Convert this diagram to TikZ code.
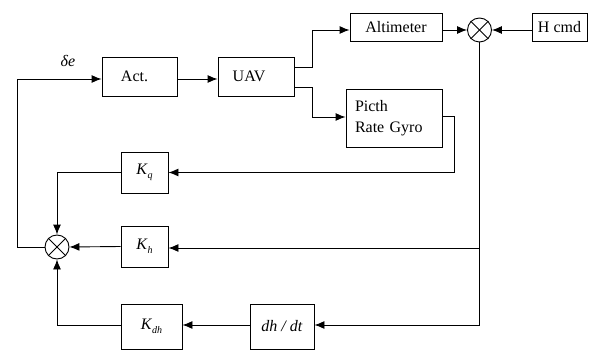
\documentclass[tikz,border=0pt]{standalone}
\usepackage{fontspec}
\setmainfont{Liberation Serif}
\usetikzlibrary{arrows.meta}
\newcommand{\Kgain}[1]{\textit{K}\raisebox{-3.5pt}{\fontsize{10}{10}\selectfont\textit{#1}}}
\begin{document}
\begin{tikzpicture}[x=1pt,y=-1pt,
  blk/.style={draw,line width=0.9pt,inner sep=0pt,font=\fontsize{16}{21}\selectfont},
  sumj/.style={draw,circle,line width=0.9pt,minimum size=24pt,inner sep=0pt},
  wire/.style={line width=0.9pt},
  arr/.style={wire,-{Latex[length=10pt,width=8pt]}}]
\useasboundingbox (0,0) rectangle (608,350);
% blocks
\node[blk,minimum width=75pt,minimum height=39pt] (act) at (139.5,76.5) {Act.\hspace*{10pt}};
\node[blk,minimum width=76pt,minimum height=39pt] (uav) at (256,76.5) {UAV\hspace*{14pt}};
\node[blk,minimum width=92pt,minimum height=28pt] (alt) at (396,27) {Altimeter};
\node[blk,minimum width=55pt,minimum height=28pt] (hcmd) at (559.5,27) {H cmd};
\node[blk,text width=78pt,inner xsep=9pt,minimum height=58pt,align=left] (gyro) at (394,118) {Picth\\Rate Gyro};
\node[blk,minimum width=47pt,minimum height=41pt] (kq) at (144.5,172.5) {\Kgain{q}};
\node[blk,minimum width=47pt,minimum height=41pt] (kh) at (144.5,246.5) {\Kgain{h}};
\node[blk,minimum width=61pt,minimum height=45pt] (kdh) at (151.5,326.5) {\Kgain{dh}};
\node[blk,minimum width=64pt,minimum height=45pt] (dhdt) at (282,326.5) {\textit{dh / dt}};
% summing junctions
\node[sumj] (s1) at (479.5,30) {};
\node[sumj] (s2) at (57,247) {};
\foreach \s in {s1,s2}{
  \draw[wire] (\s.45) -- (\s.225);
  \draw[wire] (\s.135) -- (\s.315);
}
\node[font=\fontsize{16}{18}\selectfont] (de) at (68,61) {\textit{δe}};
% connectors
\draw[arr] (s2.west) -- (17,247) |- (act.west |- 0,79);
\draw[arr] (act.east |- 0,79) -- (uav.west |- 0,79);
\draw[arr] (uav.east |- 0,67) -- (312,67) |- (alt.west |- s1);
\draw[arr] (uav.east |- 0,87) -- (312,87) |- (gyro.west |- 0,117);
\draw[arr] (alt.east |- s1) -- (s1.west);
\draw[arr] (hcmd.west |- s1) -- (s1.east);
\draw[arr] (gyro.east |- 0,116) -- (454,116) |- (kq.east);
\draw[arr] (kq.west) -| (s2.north);
\draw[arr] (s1.south) -- (479.5,325) -- (dhdt.east |- 0,325);
\draw[arr] (479.5,248) -- (kh.east |- 0,248);
\draw[arr] (kh.west) -- (s2.east);
\draw[arr] (dhdt.west |- 0,325) -- (kdh.east |- 0,325);
\draw[arr] (kdh.west |- 0,325) -| (s2.south);
\end{tikzpicture}
\end{document}
